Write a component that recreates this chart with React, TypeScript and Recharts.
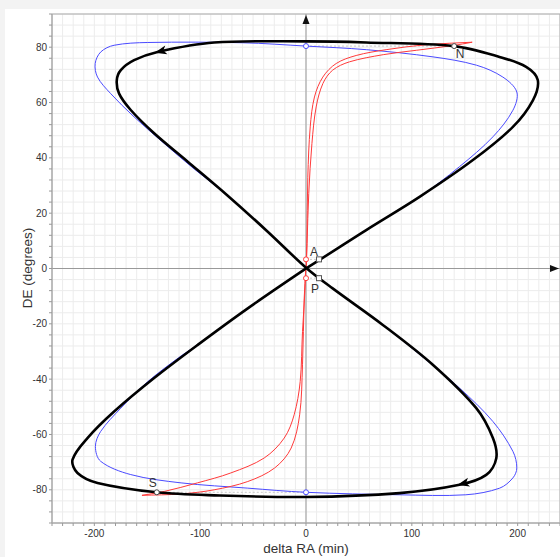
import React from "react";
import {
  LineChart,
  Line,
  XAxis,
  YAxis,
  CartesianGrid,
  ReferenceLine,
  ReferenceDot,
  ReferenceArea,
} from "recharts";

type Pt = [number, number];

// thick black curve, from top middle running right-to-left along the top
const blackPath: Pt[] = [
  [0, 82.1], [-86.8, 81.7], [-140.3, 78.3], [-162.4, 75.3], [-175, 71.7], [-178.8, 68],
  [-176.6, 63.2], [-165.6, 57.3], [-143.5, 48.9], [-112, 38.7], [-74.2, 26.4], [-36.4, 13.4],
  [0, 0.3], [25.2, -7.2], [72.6, -20.4], [119.8, -34.8], [160.9, -50.5], [176.6, -61.3],
  [179.8, -68.6], [170.3, -74.6], [145, -78.2], [88.4, -81.2], [0, -82.6], [-86.8, -82],
  [-141, -80.9], [-197, -77.5], [-215.9, -73.9], [-220.6, -69.1], [-206.5, -61.3], [-181.3, -51.7],
  [-143.5, -39.6], [-102.3, -27.6], [-55, -14.4], [0, 0], [12.8, 3.1], [56.9, 13.9],
  [107.3, 25.9], [157.7, 39.2], [195.5, 51.2], [214.4, 60.8], [219, 68.1], [208, 72.9],
  [182.9, 76.5], [139.7, 80.4], [56.9, 81.7], [0, 82.1],
];

// thin blue curve
const bluePath: Pt[] = [
  [0, 80.4], [-60, 81.6], [-149.5, 81.7], [-181.3, 80.7], [-193.9, 78.3], [-199.2, 74.1],
  [-197, 69.2], [-184.5, 63.2], [-162.4, 54.8], [-134, 45.2], [-105.7, 36], [-74.2, 26.4],
  [-36.4, 13.4], [0, 0.3], [25.2, -7.2], [72.6, -20.4], [104, -30], [145, -43.2],
  [176.6, -55.3], [195.5, -66.1], [199.2, -72.1], [195.5, -75.7], [183, -79.4], [151, -81.8],
  [88, -81.8], [0, -80.9], [-55, -79.4], [-118, -77.5], [-165.6, -74.5], [-194, -69.7],
  [-199, -64.3], [-194, -58.9], [-175, -50.5], [-149.5, -40.9], [-118, -31.6], [-102.3, -27.6],
  [-55, -14.4], [0, 0], [12.8, 3.1], [56.9, 13.9], [107.3, 25.9], [145, 36.8],
  [176.6, 47.6], [195.5, 57.2], [199.2, 63.8], [186, 69.2], [161, 73.5], [120, 76.5],
  [57, 79.1], [0, 80.4],
];

// thin red curve, four branches from the origin out to the two tips
const redTopOuter: Pt[] = [
  [0.2, 0], [0.8, 9], [1.7, 33], [4, 51.2], [8, 62], [15.9, 69.2],
  [28.5, 74.1], [47.4, 77], [75.7, 79.1], [113.6, 80.9], [157, 81.8],
];
const redTopInner: Pt[] = [
  [0.2, 0], [1, 9], [2.6, 27.1], [5.6, 45.2], [9.6, 58.4], [16, 66.9],
  [25.2, 71.7], [41, 74.7], [73, 77.3], [104.6, 78.9], [139, 80.6], [157, 81.8],
];
const redBottomOuter: Pt[] = [
  [-0.2, 0], [-1.7, -10.8], [-3.3, -34.8], [-6, -52.9], [-14, -64.9], [-29.6, -72.1],
  [-55, -77], [-86.8, -80], [-118, -81.5], [-155, -82],
];
const redBottomInner: Pt[] = [
  [-0.2, 0], [-1, -8], [-3.3, -22.8], [-5.5, -40.9], [-11.2, -52.9], [-20.6, -61.3],
  [-39.5, -68.5], [-71, -73.9], [-102.6, -77.5], [-134, -80.6], [-155, -82],
];

// marked points
const pointN: Pt = [140, 80.4];
const pointS: Pt = [-141, -80.9];
const pointA: Pt = [12.3, 3.3];
const pointP: Pt = [12.3, -3.5];
const redMarks: Pt[] = [[0, 3.3], [0, -3.5]];
const blueMarks: Pt[] = [[0, 80.4], [0, -80.9]];
const blackArrows: Pt[] = [[-143, 78], [143, -78.3]];

const xDomain = [-240, 240];
const yDomain = [-92, 92];
const xTicks = Array.from({ length: 49 }, (_, i) => -240 + i * 10);
const yTicks = Array.from({ length: 47 }, (_, i) => -92 + i * 4);
const xLabels = [-200, -100, 0, 100, 200];
const yLabels = [-80, -60, -40, -20, 0, 20, 40, 60, 80];

const FONT = '"Liberation Sans", Arial, sans-serif';

const rows = (pts: Pt[]) => pts.map(([x, y]) => ({ x, y }));

// smooth curve through the points, tangents scaled by chord length so uneven spacing doesn't kink;
// a path whose ends meet is closed smoothly
const smoothCurve = (context: any) => {
  let pts: number[][] = [];
  return {
    areaStart() {},
    areaEnd() {},
    lineStart() {
      pts = [];
    },
    point(x: number, y: number) {
      pts.push([+x, +y]);
    },
    lineEnd() {
      const n = pts.length;
      if (!n) return;
      context.moveTo(pts[0][0], pts[0][1]);
      const closed = n > 3 && Math.hypot(pts[0][0] - pts[n - 1][0], pts[0][1] - pts[n - 1][1]) < 0.5;
      const at = (i: number) => {
        if (i < 0) return closed ? pts[n - 2] : pts[0];
        if (i > n - 1) return closed ? pts[1] : pts[n - 1];
        return pts[i];
      };
      const d = (a: number[], b: number[]) => Math.hypot(b[0] - a[0], b[1] - a[1]);
      for (let i = 0; i < n - 1; i++) {
        const p0 = at(i - 1), p1 = pts[i], p2 = pts[i + 1], p3 = at(i + 2);
        const d01 = d(p0, p1), d12 = d(p1, p2), d23 = d(p2, p3);
        const s1 = d12 / 3 / Math.max(d01 + d12, 1e-6);
        const s2 = d12 / 3 / Math.max(d12 + d23, 1e-6);
        context.bezierCurveTo(
          p1[0] + (p2[0] - p0[0]) * s1,
          p1[1] + (p2[1] - p0[1]) * s1,
          p2[0] - (p3[0] - p1[0]) * s2,
          p2[1] - (p3[1] - p1[1]) * s2,
          p2[0],
          p2[1]
        );
      }
    },
  };
};

const XTick = (p: any) =>
  xLabels.includes(p.payload.value) ? (
    <text x={p.x} y={p.y + 9} textAnchor="middle" fontSize={10} fill="#333" fontFamily={FONT}>
      {p.payload.value}
    </text>
  ) : (
    <g />
  );

const YTick = (p: any) =>
  yLabels.includes(p.payload.value) ? (
    <text x={p.x} y={p.y + 3.5} textAnchor="end" fontSize={10} fill="#333" fontFamily={FONT}>
      {p.payload.value}
    </text>
  ) : (
    <g />
  );

const labelled = (label: string, dx: number, dy: number, square = false) => (p: any) => (
  <g>
    {square ? (
      <rect x={p.cx - 2.5} y={p.cy - 2.5} width={5} height={5} fill="#fff" stroke="#555" />
    ) : (
      <circle cx={p.cx} cy={p.cy} r={2.5} fill="#fff" stroke="#444" />
    )}
    <text x={p.cx + dx} y={p.cy + dy} textAnchor="middle" fontSize={12} fill="#333" fontFamily={FONT}>
      {label}
    </text>
  </g>
);

export default function App() {
  const thin = (pts: Pt[], color: string, key: string) => (
    <Line
      key={key}
      data={rows(pts)}
      dataKey="y"
      type={smoothCurve as any}
      stroke={color}
      strokeWidth={1}
      dot={false}
      activeDot={false}
      isAnimationActive={false}
    />
  );

  return (
    <div style={{ position: "fixed", left: 0, top: 0, width: 560, height: 557, background: "#f3f3f3", overflow: "hidden" }}>
      <div style={{ position: "absolute", left: 5, top: 9, width: 600, height: 560, background: "#fff" }} />
      <div style={{ position: "absolute", left: 0, top: 0 }}>
        <LineChart width={570} height={557} margin={{ top: 14, right: 10, bottom: 4, left: 8 }}>
          <CartesianGrid stroke="#ececec" />
          <XAxis
            dataKey="x"
            type="number"
            domain={xDomain}
            ticks={xTicks}
            interval={0}
            allowDataOverflow
            tickSize={3}
            tickMargin={2}
            height={30}
            axisLine={{ stroke: "#aaa" }}
            tickLine={{ stroke: "#999" }}
            tick={XTick}
          />
          <YAxis
            type="number"
            domain={yDomain}
            ticks={yTicks}
            interval={0}
            allowDataOverflow
            tickSize={3}
            tickMargin={2}
            width={44}
            axisLine={{ stroke: "#aaa" }}
            tickLine={{ stroke: "#999" }}
            tick={YTick}
          />
          <ReferenceArea x1={-240} x2={240} y1={-92} y2={92} fill="none" stroke="#aaa" />
          <ReferenceLine x={0} stroke="#999" />
          <ReferenceLine y={0} stroke="#999" />
          <ReferenceDot
            x={0}
            y={92}
            shape={(p: any) => (
              <polygon points={`${p.cx},${p.cy + 1} ${p.cx - 3.5},${p.cy + 10} ${p.cx + 3.5},${p.cy + 10}`} fill="#111" />
            )}
          />
          <ReferenceDot
            x={240}
            y={0}
            shape={(p: any) => (
              <polygon points={`${p.cx - 1},${p.cy} ${p.cx - 10},${p.cy - 3.5} ${p.cx - 10},${p.cy + 3.5}`} fill="#111" />
            )}
          />

          <ReferenceLine segment={[{ x: blueMarks[0][0], y: blueMarks[0][1] }, { x: pointN[0], y: pointN[1] }]} stroke="#c8c8c8" strokeDasharray="2 2" />
          <ReferenceLine segment={[{ x: pointS[0], y: pointS[1] }, { x: blueMarks[1][0], y: blueMarks[1][1] }]} stroke="#c8c8c8" strokeDasharray="2 2" />
          <ReferenceLine segment={[{ x: redMarks[0][0], y: redMarks[0][1] }, { x: pointA[0], y: pointA[1] }]} stroke="#c8c8c8" strokeDasharray="2 2" />
          <ReferenceLine segment={[{ x: redMarks[1][0], y: redMarks[1][1] }, { x: pointP[0], y: pointP[1] }]} stroke="#c8c8c8" strokeDasharray="2 2" />

          {thin(bluePath, "#4a4aff", "blue")}
          {thin(redTopOuter, "#ff3a3a", "r1")}
          {thin(redTopInner, "#ff3a3a", "r2")}
          {thin(redBottomOuter, "#ff3a3a", "r3")}
          {thin(redBottomInner, "#ff3a3a", "r4")}
          <Line
            data={rows(blackPath)}
            dataKey="y"
            type={smoothCurve as any}
            stroke="#000"
            strokeWidth={2.6}
            dot={false}
            activeDot={false}
            isAnimationActive={false}
          />

          {blackArrows.map(([x, y], i) => (
            <ReferenceDot
              key={`arr${i}`}
              x={x}
              y={y}
              shape={(p: any) => (
                <polygon points="0,0 12,-4.5 9,0 12,4.5" transform={`translate(${p.cx},${p.cy}) rotate(-14)`} fill="#000" />
              )}
            />
          ))}
          {redMarks.map(([x, y], i) => (
            <ReferenceDot key={`rm${i}`} x={x} y={y} r={2.5} fill="#fff" stroke="#ff3a3a" />
          ))}
          {blueMarks.map(([x, y], i) => (
            <ReferenceDot key={`bm${i}`} x={x} y={y} r={2.5} fill="#fff" stroke="#4a4aff" />
          ))}
          <ReferenceDot x={pointN[0]} y={pointN[1]} shape={labelled("N", 6, 12)} />
          <ReferenceDot x={pointS[0]} y={pointS[1]} shape={labelled("S", -4, -5)} />
          <ReferenceDot x={pointA[0]} y={pointA[1]} shape={labelled("A", -5, -3, true)} />
          <ReferenceDot x={pointP[0]} y={pointP[1]} shape={labelled("P", -4, 15, true)} />
        </LineChart>
      </div>
      <div
        style={{
          position: "absolute",
          left: 52,
          width: 508,
          top: 541,
          textAlign: "center",
          fontFamily: FONT,
          fontSize: 13.5,
          color: "#333",
        }}
      >
        delta RA (min)
      </div>
      <div
        style={{
          position: "absolute",
          left: 27,
          top: 268,
          transform: "translate(-50%, -50%) rotate(-90deg)",
          whiteSpace: "nowrap",
          fontFamily: FONT,
          fontSize: 13.5,
          color: "#333",
        }}
      >
        DE (degrees)
      </div>
    </div>
  );
}
